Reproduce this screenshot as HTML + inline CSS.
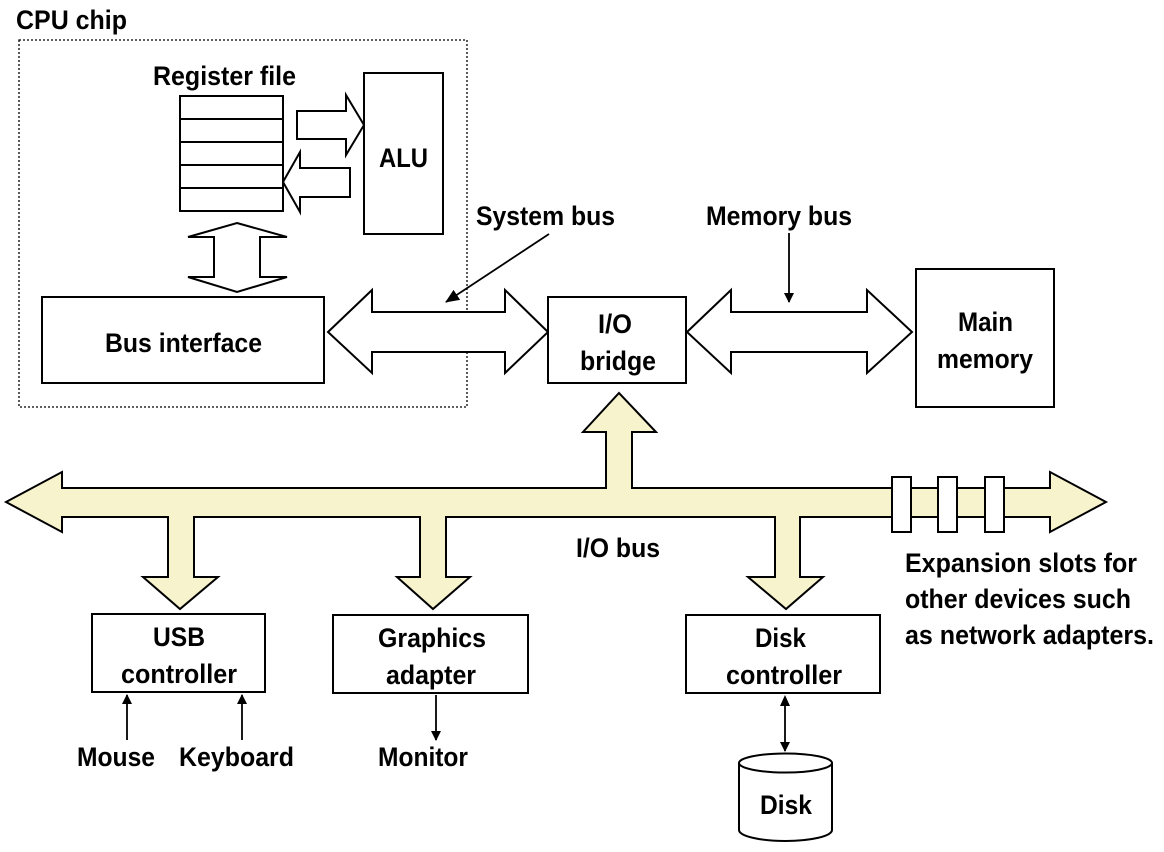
<!DOCTYPE html>
<html><head><meta charset="utf-8"><style>
html,body{margin:0;padding:0;background:#fff;}
svg{display:block;}
text{font-family:"Liberation Sans",sans-serif;font-weight:bold;font-size:27px;fill:#000;}
</style></head><body>
<svg width="1164" height="852" viewBox="0 0 1164 852" xmlns="http://www.w3.org/2000/svg">
<defs>
<marker id="ah" markerWidth="10" markerHeight="10" refX="9" refY="5" orient="auto" markerUnits="userSpaceOnUse">
<path d="M0,0 L10,5 L0,10 z" fill="#000"/></marker>
<marker id="ah2" markerWidth="14" markerHeight="12" refX="13" refY="6" orient="auto" markerUnits="userSpaceOnUse">
<path d="M0,0 L14,6 L0,12 z" fill="#000"/></marker>
</defs>
<g stroke="#000" stroke-width="2" fill="#fff">
<rect x="19" y="40" width="448" height="367" fill="none" stroke-width="1.3" stroke-dasharray="2,2"/>
<rect x="180" y="96" width="103" height="115"/>
<line x1="180" y1="119" x2="283" y2="119"/><line x1="180" y1="142" x2="283" y2="142"/>
<line x1="180" y1="165" x2="283" y2="165"/><line x1="180" y1="188" x2="283" y2="188"/>
<rect x="364" y="73" width="79" height="161"/>
<path d="M297,111 L346,111 L346,95 L364,125 L346,155 L346,139 L297,139 z"/>
<path d="M350,168 L300,168 L300,152 L283,182 L300,212 L300,197 L350,197 z"/>
<path d="M237,223 L287,237 L260,237 L260,277 L287,277 L237,292 L188,277 L214,277 L214,237 L188,237 z"/>
<rect x="42" y="297" width="282" height="86"/>
<path d="M328,332 L372,290 L372,312 L505,312 L505,290 L548,332 L505,373 L505,352 L372,352 L372,373 z"/>
<rect x="548" y="297" width="138" height="86"/>
<path d="M687,332 L731,290 L731,312 L867,312 L867,290 L912,332 L867,373 L867,352 L731,352 L731,373 z"/>
<rect x="916" y="269" width="138" height="138"/>
<g fill="#f6f3cd">
<path d="M6,502 L62,472 L62,488 L606,488 L606,432 L583,432 L619,393 L656,432 L632,432 L632,488 L1050,488 L1050,472 L1106,502 L1050,532 L1050,517 L800,517 L800,577 L823,577 L786,609 L748,577 L775,577 L775,517 L446,517 L446,577 L470,577 L433,609 L397,577 L420,577 L420,517 L194,517 L194,577 L218,577 L180,609 L143,577 L168,577 L168,517 L62,517 L62,532 z"/>
</g>
<rect x="892" y="477" width="19" height="55"/>
<rect x="938" y="477" width="19" height="55"/>
<rect x="985" y="477" width="19" height="55"/>
<rect x="92" y="614" width="173" height="78"/>
<rect x="333" y="615" width="195" height="78"/>
<rect x="686" y="615" width="194" height="78"/>
<path d="M739,763 L739,830 A46.5,11 0 0 0 832,830 L832,763"/>
<ellipse cx="785.5" cy="763" rx="46.5" ry="9.5"/>
</g>
<g stroke="#000" stroke-width="1.8" fill="none">
<line x1="549" y1="234" x2="446" y2="302" marker-end="url(#ah2)"/>
<line x1="789" y1="233" x2="789" y2="302" marker-end="url(#ah)"/>
<line x1="127" y1="740" x2="127" y2="695" marker-end="url(#ah)"/>
<line x1="242" y1="740" x2="242" y2="695" marker-end="url(#ah)"/>
<line x1="436" y1="695" x2="436" y2="740" marker-end="url(#ah)"/>
<line x1="785" y1="700" x2="785" y2="751" marker-end="url(#ah)"/>
<path d="M780,706 L785,695 L790,706 z" fill="#000" stroke="none"/>
</g>
<text x="16" y="29" font-size="24" textLength="111" lengthAdjust="spacingAndGlyphs">CPU chip</text>
<text x="153" y="85" textLength="143" lengthAdjust="spacingAndGlyphs">Register file</text>
<text x="379" y="167" textLength="49" lengthAdjust="spacingAndGlyphs">ALU</text>
<text x="476" y="225" textLength="139" lengthAdjust="spacingAndGlyphs">System bus</text>
<text x="706" y="225" textLength="146" lengthAdjust="spacingAndGlyphs">Memory bus</text>
<text x="105" y="352" textLength="157" lengthAdjust="spacingAndGlyphs">Bus interface</text>
<text x="598" y="333" textLength="34" lengthAdjust="spacingAndGlyphs">I/O</text>
<text x="580" y="370" textLength="76" lengthAdjust="spacingAndGlyphs">bridge</text>
<text x="958" y="331" textLength="55" lengthAdjust="spacingAndGlyphs">Main</text>
<text x="937" y="368" textLength="96" lengthAdjust="spacingAndGlyphs">memory</text>
<text x="576" y="557" textLength="84" lengthAdjust="spacingAndGlyphs">I/O bus</text>
<text x="905" y="572" textLength="232" lengthAdjust="spacingAndGlyphs">Expansion slots for</text>
<text x="905" y="608" textLength="226" lengthAdjust="spacingAndGlyphs">other devices such</text>
<text x="905" y="644" textLength="249" lengthAdjust="spacingAndGlyphs">as network adapters.</text>
<text x="153" y="646" textLength="52" lengthAdjust="spacingAndGlyphs">USB</text>
<text x="121" y="683" textLength="116" lengthAdjust="spacingAndGlyphs">controller</text>
<text x="378" y="647" textLength="108" lengthAdjust="spacingAndGlyphs">Graphics</text>
<text x="386" y="684" textLength="90" lengthAdjust="spacingAndGlyphs">adapter</text>
<text x="755" y="647" textLength="51" lengthAdjust="spacingAndGlyphs">Disk</text>
<text x="726" y="684" textLength="116" lengthAdjust="spacingAndGlyphs">controller</text>
<text x="77" y="766" textLength="78" lengthAdjust="spacingAndGlyphs">Mouse</text>
<text x="179" y="766" textLength="115" lengthAdjust="spacingAndGlyphs">Keyboard</text>
<text x="378" y="766" textLength="90" lengthAdjust="spacingAndGlyphs">Monitor</text>
<text x="760" y="814" textLength="52" lengthAdjust="spacingAndGlyphs">Disk</text>
</svg>
</body></html>
